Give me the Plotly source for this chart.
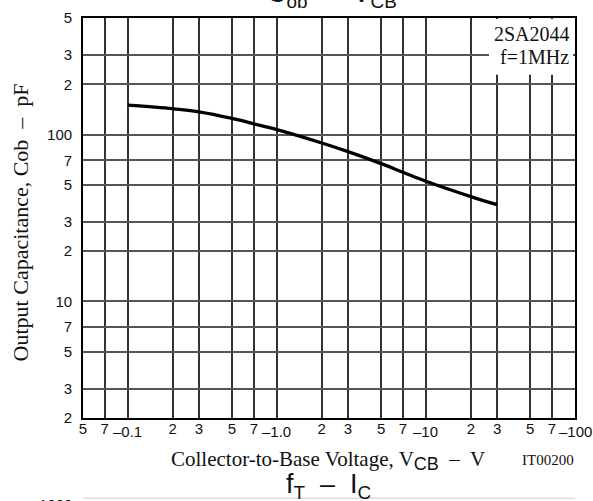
import plotly.graph_objects as go
import numpy as np

# Output capacitance vs collector-to-base voltage (magnitudes; VCB is negative)
vcb = [0.1, 0.2, 0.3, 0.5, 0.7, 1.0, 2, 3, 5, 7, 10, 20, 30]
cob = [150, 143, 137, 125, 116, 107, 89, 79, 67, 59.5, 52.5, 42.5, 38]

# Axis ticks
x_minor_vals = [0.05, 0.07, 0.2, 0.3, 0.5, 0.7, 2, 3, 5, 7, 20, 30, 50, 70]
x_minor_text = ["5", "7", "2", "3", "5", "7", "2", "3", "5", "7", "2", "3", "5", "7"]
x_major_vals = [0.1, 1.0, 10, 100]
x_major_text = ["–0.1", "–1.0", "–10", "–100"]
y_tick_vals = [2, 3, 5, 7, 10, 20, 30, 50, 70, 100, 200, 300, 500]
y_tick_text = ["2", "3", "5", "7", "10", "2", "3", "5", "7", "100", "2", "3", "5"]

W, H = 593, 501
L, R, T, B = 83, 18, 9, 83
PH = H - T - B
PW = W - L - R


def py(p):
    """pixel row -> paper y"""
    return (H - B - p) / PH


def px(p):
    """pixel column -> paper x"""
    return (p - L) / PW


SERIF = "Liberation Serif, Times New Roman, serif"
SANS = "Liberation Sans, Arial, sans-serif"
XGRID = "#333333"
YGRID = "#555555"
INK = "#111111"

fig = go.Figure()
fig.add_trace(go.Scatter(
    x=vcb, y=cob, mode="lines",
    line=dict(color="black", width=3.3, shape="spline", smoothing=1.0),
    hoverinfo="skip", showlegend=False,
))

fig.update_xaxes(
    type="log",
    range=[np.log10(0.05), np.log10(100)],
    tickvals=x_minor_vals, ticktext=x_minor_text,
    showgrid=True, gridcolor=XGRID, gridwidth=1.5,
    minor=dict(tickvals=x_major_vals, showgrid=True, gridcolor=XGRID,
               gridwidth=1.5, ticks=""),
    showline=True, mirror=True, linecolor="black", linewidth=1.8,
    ticks="", zeroline=False, ticklabelstandoff=-4,
    tickfont=dict(family=SANS, size=15, color=INK),
)
fig.update_yaxes(
    type="log",
    range=[np.log10(2), np.log10(500)],
    tickvals=y_tick_vals, ticktext=y_tick_text,
    showgrid=True, gridcolor=YGRID, gridwidth=1.5,
    showline=True, mirror=True, linecolor="black", linewidth=1.8,
    ticks="", zeroline=False, ticklabelstandoff=6,
    tickfont=dict(family=SANS, size=15, color=INK),
)

ann = []
# decade labels on the x axis, set slightly lower than the others
for v, t in zip(x_major_vals, x_major_text):
    ann.append(dict(x=np.log10(v), xref="x", y=0, yref="paper",
                    yanchor="top", xanchor="center", yshift=-3,
                    text=t, showarrow=False,
                    font=dict(family=SANS, size=15, color=INK)))

# part number / test condition, on a white patch over the grid
ann.append(dict(x=px(572), y=py(25), xref="paper", yref="paper",
                xanchor="right", yanchor="middle",
                text="2SA2044", showarrow=False,
                font=dict(family=SERIF, size=20, color=INK)))
ann.append(dict(x=px(571), y=py(49), xref="paper", yref="paper",
                xanchor="right", yanchor="middle",
                text="f=1MHz", showarrow=False,
                font=dict(family=SERIF, size=20, color=INK)))

# axis titles
ann.append(dict(x=px(20), y=py(218), xref="paper", yref="paper",
                xanchor="center", yanchor="middle", textangle=-90,
                text="Output Capacitance, Cob  –  pF", showarrow=False,
                font=dict(family=SERIF, size=22, color=INK)))
ann.append(dict(x=px(328), y=py(461), xref="paper", yref="paper",
                xanchor="center", yanchor="middle",
                text="Collector-to-Base Voltage, V<sub><span style='font-family:Liberation Sans;font-size:18px'>CB</span></sub>  –  V",
                showarrow=False,
                font=dict(family=SERIF, size=21, color=INK)))
ann.append(dict(x=px(548), y=py(461), xref="paper", yref="paper",
                xanchor="center", yanchor="middle",
                text="IT00200", showarrow=False,
                font=dict(family=SERIF, size=15, color=INK)))

# chart titles (this one and the next chart on the sheet)
ann.append(dict(x=px(332), y=py(5), xref="paper", yref="paper",
                xanchor="center", yanchor="bottom",
                text="C<sub>ob</sub>  –  V<sub>CB</sub>", showarrow=False,
                font=dict(family=SANS, size=27, color=INK)))
ann.append(dict(x=px(328), y=py(488), xref="paper", yref="paper",
                xanchor="center", yanchor="middle",
                text="f<sub>T</sub>  –  I<sub>C</sub>", showarrow=False,
                font=dict(family=SANS, size=27, color=INK)))
ann.append(dict(x=px(74), y=py(496), xref="paper", yref="paper",
                xanchor="right", yanchor="top",
                text="1000", showarrow=False,
                font=dict(family=SANS, size=15, color=INK)))

shapes = [
    # white patch behind the part-number text
    dict(type="rect", xref="paper", yref="paper", layer="above",
         x0=px(489), x1=px(573), y0=py(67), y1=py(10),
         fillcolor="white", line=dict(width=0)),
    # top edge of the next chart on the sheet
    dict(type="line", xref="paper", yref="paper",
         x0=0, x1=1, y0=py(500), y1=py(500),
         line=dict(color="#cccccc", width=1)),
]

fig.update_layout(
    width=W, height=H,
    margin=dict(l=L, r=R, t=T, b=B),
    paper_bgcolor="white", plot_bgcolor="white",
    annotations=ann,
    shapes=shapes,
)

fig.write_html("out.html")
